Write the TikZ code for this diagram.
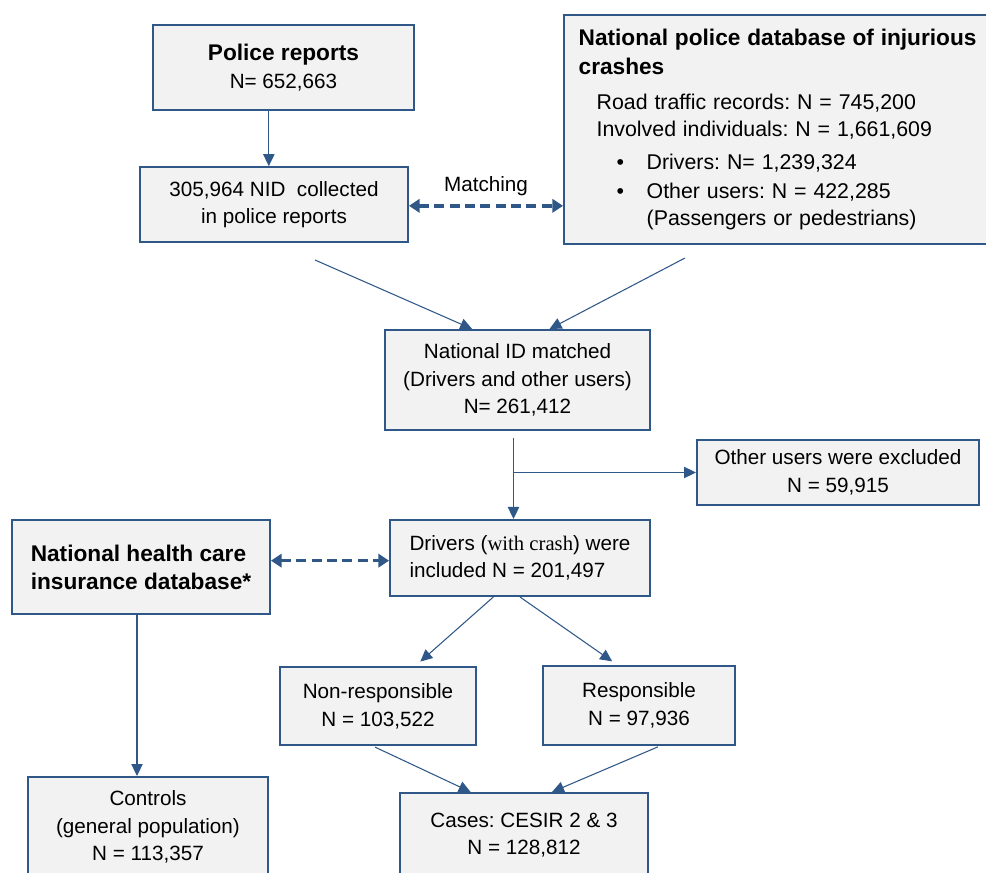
\documentclass[tikz,border=0pt]{standalone}
\usepackage{fontspec}
\setmainfont{Liberation Sans}
\newfontfamily\timesfont{Liberation Serif}
\usetikzlibrary{arrows.meta}
\setlength{\parindent}{0pt}
\frenchspacing
\definecolor{boxblue}{RGB}{47,88,136}
\definecolor{boxgray}{RGB}{242,242,242}

\begin{document}
\begin{tikzpicture}[x=0.75pt, y=-0.75pt,
	font=\fontsize{15.5}{20.75}\selectfont,
	box/.style={draw=boxblue, fill=boxgray, line width=1.5pt, align=center, inner sep=0pt},
	arr/.style={draw=boxblue, line width=0.8pt, -{Triangle[length=9pt,width=8.5pt]}},
	dblarr/.style={draw=boxblue, line width=2.6pt, dash pattern=on 7.5pt off 4pt,
		{Triangle[length=8pt,width=10pt]}-{Triangle[length=8pt,width=10pt]}}]
	\useasboundingbox (0,0) rectangle (986,873);

	% police reports
	\node[box, minimum width=196pt, minimum height=64pt] (police) at (283.5,67.5)
		{{\bfseries\fontsize{17}{21}\selectfont Police reports}\\N= 652,663};
	\node[box, minimum width=201pt, minimum height=56pt] (nid) at (274,204.5)
		{305,964 NID\ \ collected\\in police reports};
	\draw[arr] ([xshift=-11pt]police.south) -- ([xshift=-11pt]police.south |- nid.north);

	% database
	\node[box, anchor=north west, align=left, text width=320pt, inner xsep=11pt,
		minimum height=172pt] (npdb) at (563,14)
		{{\fontsize{17}{21.75}\selectfont\bfseries National police database of injurious\\crashes\par}
		\vspace{6pt}
		{\fontsize{16}{20.25}\selectfont
		\hspace*{13.5pt}Road traffic records: N = 745,200\\
		\hspace*{13.5pt}Involved individuals: N = 1,661,609\\[4.5pt]
		\hspace*{28.5pt}\makebox[22.5pt][l]{•}Drivers: N= 1,239,324\\[2pt]
		\hspace*{28.5pt}\makebox[22.5pt][l]{•}Other users: N = 422,285\\
		\hspace*{51pt}(Passengers or pedestrians)\par}};

	\draw[dblarr] ([yshift=-1pt]nid.east) -- ([yshift=-1pt]nid.east -| npdb.west)
		node[midway, above=3pt] {Matching};

	% matched
	\node[box, minimum width=199pt, minimum height=75pt] (idm) at (517.5,380)
		{National ID matched\\(Drivers and other users)\\N= 261,412};
	\coordinate (l1) at (315,260);
	\coordinate (l2) at (685,258);
	\draw[arr] (l1) -- ([xshift=-34pt]idm.north);
	\draw[arr] (l2) -- ([xshift=24pt]idm.north);

	\node[box, minimum width=211.5pt, minimum height=49pt] (other) at (838,472.5)
		{Other users were excluded\\N = 59,915};
	\node[box, align=left, minimum width=195pt, minimum height=57pt] (drivers) at (520,558)
		{Drivers ({\timesfont with crash}) were\\included N = 201,497};
	\draw[arr, shorten <=5pt] ([xshift=-3pt]idm.south) -- ([xshift=-3pt]idm.south |- drivers.north);
	\coordinate (br) at ([xshift=-3pt]idm.south |- other.west);
	\draw[arr] (br) -- (other.west);

	% health care
	\node[box, align=left, minimum width=193.5pt, minimum height=70.5pt,
		font=\fontsize{17}{21}\selectfont\bfseries] (health) at (141,567)
		{National health care\\insurance database*};
	\draw[dblarr] ([yshift=-2pt]drivers.west -| health.east) -- ([yshift=-2pt]drivers.west);

	% responsibility
	\node[box, minimum width=147pt, minimum height=58.5pt] (nonresp) at (378,706)
		{Non-responsible\\N = 103,522};
	\node[box, minimum width=144pt, minimum height=59pt] (resp) at (639,705.5)
		{Responsible\\N = 97,936};
	\draw[arr, shorten >=5pt] ([xshift=-20pt]drivers.south) -- ([xshift=28pt]nonresp.north);
	\draw[arr, shorten >=5pt] (drivers.south) -- ([xshift=-16pt]resp.north);

	% controls and cases
	\node[box, minimum width=180pt, minimum height=75pt] (controls) at (148,827)
		{Controls\\(general population)\\N = 113,357};
	\node[box, minimum width=186pt, minimum height=63pt] (cases) at (524,835)
		{Cases: CESIR 2 \& 3\\N = 128,812};
	\draw[arr] ([xshift=-3pt]health.south) -- ([xshift=-3pt]health.south |- controls.north);
	\draw[arr, shorten <=2pt] ([xshift=-4pt]nonresp.south) -- ([xshift=-40pt]cases.north);
	\draw[arr, shorten <=2pt] ([xshift=16pt]resp.south) -- ([xshift=21pt]cases.north);

\end{tikzpicture}
\end{document}
